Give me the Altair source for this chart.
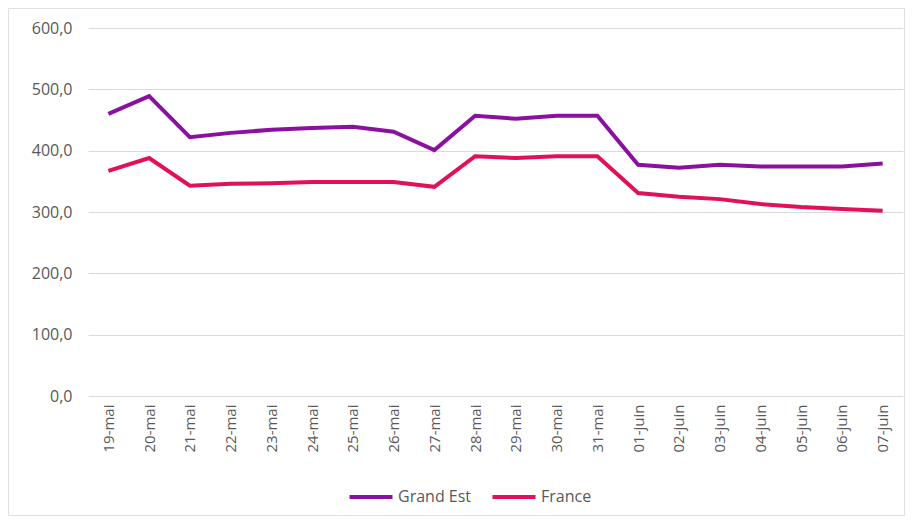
import altair as alt
import pandas as pd

dates = ["19-mai", "20-mai", "21-mai", "22-mai", "23-mai", "24-mai", "25-mai",
         "26-mai", "27-mai", "28-mai", "29-mai", "30-mai", "31-mai",
         "01-juin", "02-juin", "03-juin", "04-juin", "05-juin", "06-juin", "07-juin"]
grand_est = [460, 489, 422, 429, 434, 437, 439, 431, 401, 457, 452, 457, 457,
             377, 372, 377, 374, 374, 374, 379]
france = [367, 388, 343, 346, 347, 349, 349, 349, 341, 391, 388, 391, 391,
          331, 325, 321, 313, 308, 305, 302]
series = ["Grand Est", "France"]
colors = ["#8C10A0", "#E0105A"]

rows = []
for name, vals in zip(series, [grand_est, france]):
    for d, v in zip(dates, vals):
        rows.append({"date": d, "serie": name, "value": v})
df = pd.DataFrame(rows)

FONT = "Open Sans"
GREY = "#595959"

lines = alt.Chart(df).mark_line(strokeWidth=4).encode(
    x=alt.X("date:N", sort=dates, title=None,
            scale=alt.Scale(type="point", padding=0.5),
            axis=alt.Axis(labelAngle=270, labelFont=FONT, labelFontSize=15,
                          labelColor=GREY, ticks=False, domain=False,
                          labelPadding=8, grid=False, labelBaseline="middle",
                          labelAlign="right")),
    y=alt.Y("value:Q", title=None,
            scale=alt.Scale(domain=[0, 600], nice=False),
            axis=alt.Axis(values=[0, 100, 200, 300, 400, 500, 600],
                          labelExpr="replace(format(datum.value, '.1f'), '.', ',')",
                          labelFont=FONT, labelFontSize=16, labelColor=GREY,
                          ticks=False, domain=False, labelPadding=16,
                          grid=True, gridColor="#D9D9D9", gridWidth=1)),
    color=alt.Color("serie:N", sort=series,
                    scale=alt.Scale(domain=series, range=colors),
                    legend=alt.Legend(title=None, orient="none", direction="horizontal",
                                      legendX=259, legendY=445,
                                      symbolType="stroke", symbolSize=1850,
                                      symbolStrokeWidth=4, labelOffset=3,
                                      labelFont=FONT, labelFontSize=16,
                                      labelColor=GREY, columnPadding=12)),
)

border = alt.Chart(pd.DataFrame({"a": [0]})).mark_rect(
    fill="white", fillOpacity=0, stroke="#E0E0E0", strokeWidth=1, clip=False
).encode(
    x=alt.value(-79.5), x2=alt.value(816.5), y=alt.value(-19.5), y2=alt.value(487.5)
)

chart = alt.layer(border, lines).properties(
    width=815, height=368,
    autosize=alt.AutoSizeParams(type="none"),
    padding={"left": 80, "top": 20, "right": 2, "bottom": 120},
    background="white",
).configure_view(stroke=None)

chart.save("out.html", embed_options={"renderer": "svg", "actions": False})
